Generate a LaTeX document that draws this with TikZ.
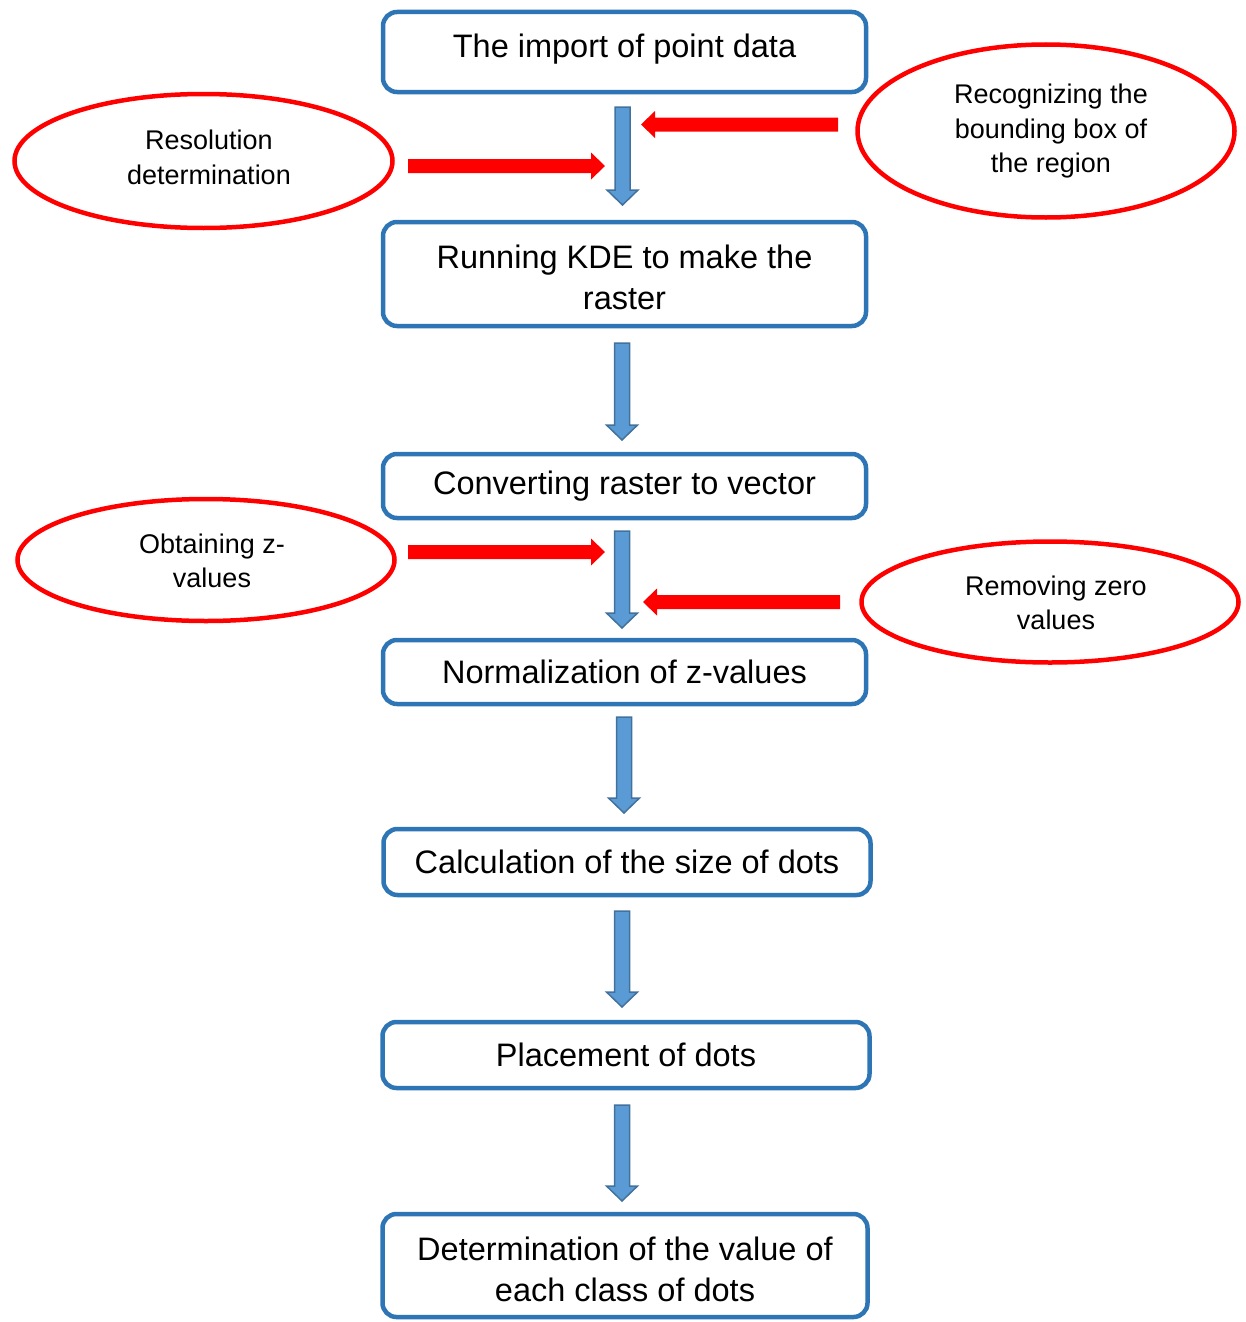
\documentclass[tikz,border=0pt]{standalone}
\usepackage{fontspec}
\setmainfont{Liberation Sans}
\usetikzlibrary{shapes.geometric}
\definecolor{boxblue}{HTML}{2E75B6}
\definecolor{arrfill}{HTML}{5B9BD5}
\definecolor{arrline}{HTML}{41719C}
\newcommand\blkdown[3]{\draw[barrow] ({#1-7.5},#2) -- ({#1+7.5},#2) -- ({#1+7.5},{#3-15}) -- ({#1+15.5},{#3-15}) -- (#1,#3) -- ({#1-15.5},{#3-15}) -- ({#1-7.5},{#3-15}) -- cycle;}
\newcommand\redright[3]{\fill[red] (#1,{#3-7}) -- ({#2-14},{#3-7}) -- ({#2-14},{#3-13.5}) -- (#2,#3) -- ({#2-14},{#3+13.5}) -- ({#2-14},{#3+7}) -- (#1,{#3+7}) -- cycle;}
\newcommand\redleft[3]{\fill[red] (#1,{#3-7}) -- ({#2+14},{#3-7}) -- ({#2+14},{#3-13.5}) -- (#2,#3) -- ({#2+14},{#3+13.5}) -- ({#2+14},{#3+7}) -- (#1,{#3+7}) -- cycle;}
\begin{document}
\begin{tikzpicture}[x=1pt,y=-1pt,
  box/.style={draw=boxblue, line width=4.5pt, rounded corners=14pt, fill=white, align=center,
    font=\fontsize{32.5}{41}\selectfont, inner sep=0pt, minimum width=483pt},
  boxtext/.style={align=center, font=\fontsize{32.5}{41}\selectfont, inner sep=0pt},
  ell/.style={draw=red, line width=4.5pt, ellipse, inner sep=0pt},
  etext/.style={align=center, font=\fontsize{27}{34.5}\selectfont, inner sep=0pt},
  barrow/.style={fill=arrfill, draw=arrline, line width=1.5pt, line join=miter}]
\useasboundingbox (0,0) rectangle (1245,1322);
\node[box, minimum height=80pt, label={[boxtext, yshift=2.5pt]center:The import of point data}] (b1) at (624.5,52) {};
\node[box, minimum height=104pt, label={[boxtext, yshift=-3pt]center:Running KDE to make the\\raster}] (b2) at (624.5,274) {};
\node[box, minimum height=64pt] (b3) at (624.5,486) {Converting raster to vector};
\node[box, minimum height=64pt] (b4) at (624.5,672) {Normalization of z-values};
\node[box, minimum height=66pt, minimum width=487pt] (b5) at (627,862) {Calculation of the size of dots};
\node[box, minimum height=66pt, minimum width=487pt] (b6) at (626,1055) {Placement of dots};
\node[box, minimum height=103pt, minimum width=485pt, label={[boxtext, yshift=-4pt]center:Determination of the value of\\each class of dots}] (b7) at (625,1265.5) {};
% ellipses
\node[ell, minimum width=378pt, minimum height=134pt] (e1) at (203.5,161) {};
\node[etext] (t1) at (209,157.5) {Resolution\\determination};
\node[ell, minimum width=377pt, minimum height=173pt] (e2) at (1046,131) {};
\node[etext] (t2) at (1051,131.5) {Recognizing the\\bounding box of\\the region};
\node[ell, minimum width=377pt, minimum height=122pt] (e3) at (206,560) {};
\node[etext] (t3) at (212,561) {Obtaining z-\\values};
\node[ell, minimum width=377pt, minimum height=121pt] (e4) at (1050,602) {};
\node[etext] (t4) at (1056,603) {Removing zero\\values};
% blue block arrows
\blkdown{622.5}{107}{205}
\blkdown{622}{343}{440}
\blkdown{622}{531}{628}
\blkdown{624}{717}{813}
\blkdown{622}{911}{1007}
\blkdown{622}{1105}{1201}
% red arrows
\redright{408}{605}{166}
\redleft{838}{641}{124.5}
\redright{408}{605}{552}
\redleft{840}{643}{602}
\end{tikzpicture}
\end{document}
